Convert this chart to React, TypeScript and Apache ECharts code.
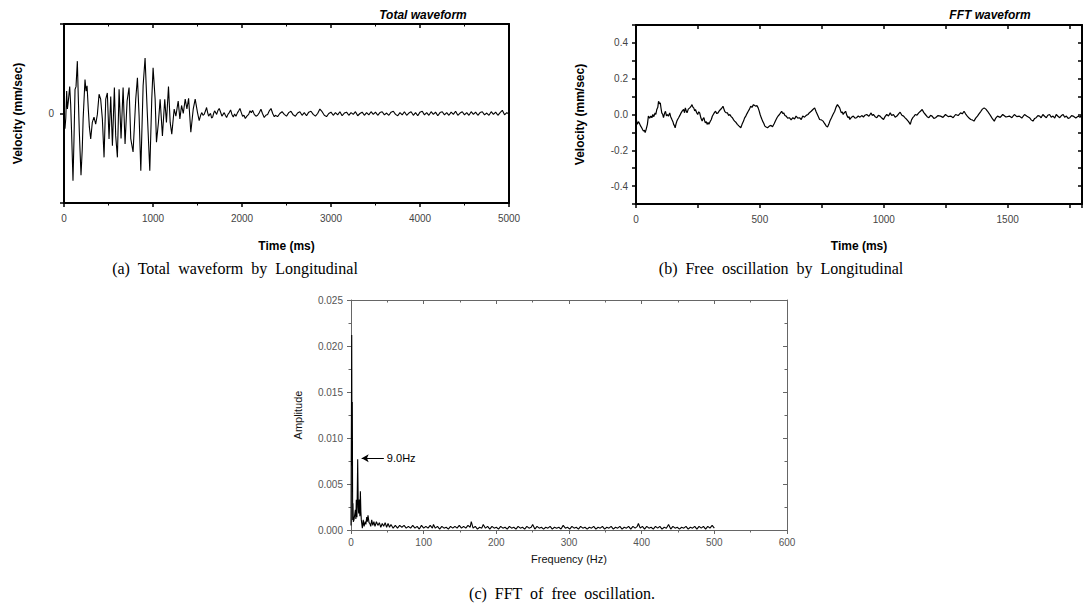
import React, { useEffect, useRef } from "react";
import * as echarts from "echarts";

// (a) Total waveform: [time ms, velocity (relative)]
const totalWave: number[][] = [
  [0, 0], [11, -0.17], [20, -0.05], [30, 0.25], [38, 0.05], [47, 0.12], [64, 0.3], [75, 0.1], [85, -0.2], [101, -0.75],
  [112, -0.3], [124, 0.27], [135, 0.3], [150, 0.585], [160, 0.2], [172, -0.2], [191, -0.69], [205, -0.4], [215, -0.06],
  [236, 0.38], [248, 0.25], [259, 0.31], [273, 0.05], [285, -0.15], [300, -0.285], [318, -0.1], [337, -0.04], [356, -0.12],
  [375, -0.01], [394, 0.215], [412, 0.16], [431, -0.06], [450, -0.49], [469, 0.16], [487, 0.23], [506, -0.285], [525, 0.19],
  [544, -0.36], [566, 0.29], [581, -0.25], [600, -0.49], [619, 0.27], [641, -0.28], [664, 0.29], [686, -0.34], [709, 0.14],
  [731, 0.29], [750, -0.28], [776, -0.43], [806, 0.16], [825, 0.4], [844, -0.03], [863, -0.64], [889, 0.31], [911, 0.62],
  [934, 0.05], [964, -0.64], [986, 0.16], [1001, 0.51], [1024, 0.16], [1039, -0.32], [1061, -0.1], [1080, 0.16],
  [1106, -0.25], [1132, 0.16], [1151, -0.1], [1174, 0.3], [1193, -0.1], [1211, -0.23], [1238, 0.05], [1257, -0.03],
  [1283, 0.14], [1302, -0.06], [1321, 0.09], [1340, 0.0], [1362, 0.16], [1381, 0.05], [1400, 0.17], [1425, -0.21],
  [1452, 0.05], [1474, 0.16], [1500, 0.01], [1519, -0.08], [1535, -0.02], [1549, 0.01], [1562, -0.02], [1575, -0.01],
  [1590, 0.03], [1602, 0.067], [1614, 0.01], [1625, -0.03], [1636, -0.01], [1647, 0.0], [1658, -0.05], [1670, -0.04],
  [1681, 0.0], [1692, 0.03], [1704, 0.01], [1715, -0.01], [1728, 0.03], [1744, 0.056], [1758, 0.02], [1774, -0.03],
  [1787, -0.01], [1800, 0.01], [1813, -0.02], [1827, -0.045], [1842, -0.01], [1857, 0.01], [1872, 0.04], [1887, -0.01],
  [1902, -0.04], [1917, -0.005], [1932, -0.03], [1950, 0.01], [1963, 0.03], [1977, 0.056], [1992, 0.01], [2007, -0.03],
  [2022, -0.02], [2037, -0.056], [2055, -0.03], [2075, -0.01], [2090, 0.03], [2105, 0.01], [2120, 0.035], [2138, -0.01],
  [2157, -0.03], [2175, -0.02], [2195, 0.01], [2213, 0.048], [2230, 0.0], [2250, -0.045], [2268, -0.02], [2288, -0.01],
  [2307, 0.03], [2326, 0.056], [2345, 0.0], [2363, -0.035], [2375, -0.02], [2400, -0.035], [2425, 0.0], [2450, 0.02],
  [2475, -0.01], [2500, -0.03], [2525, 0.01], [2550, 0.025], [2575, -0.015], [2600, -0.03], [2625, 0.005], [2650, 0.02],
  [2675, -0.02], [2700, 0.01], [2725, -0.025], [2750, 0.015], [2775, 0.025], [2800, -0.01], [2825, -0.03], [2850, 0.0],
  [2875, 0.05], [2900, 0.02], [2925, -0.02], [2950, -0.035], [2975, 0.0], [3000, 0.015], [3025, -0.02], [3050, 0.01],
  [3075, -0.015], [3100, 0.02], [3125, -0.025], [3150, 0.005], [3175, 0.015], [3200, -0.02], [3225, 0.01], [3250, -0.01],
  [3275, 0.02], [3300, -0.025], [3325, 0.0], [3350, 0.015], [3375, -0.02], [3400, 0.01], [3425, -0.015], [3450, 0.02],
  [3475, -0.01], [3500, 0.015], [3525, -0.02], [3550, 0.01], [3575, 0.02], [3600, -0.015], [3625, 0.005], [3650, -0.02],
  [3675, 0.015], [3700, 0.025], [3725, -0.01], [3750, -0.025], [3775, 0.01], [3800, -0.015], [3825, 0.02], [3850, -0.02],
  [3875, 0.005], [3900, 0.02], [3925, -0.02], [3950, 0.01], [3975, -0.025], [4000, 0.015], [4025, 0.025], [4050, -0.015],
  [4075, 0.01], [4100, -0.02], [4125, 0.02], [4150, -0.01], [4175, 0.015], [4200, -0.025], [4225, 0.01], [4250, 0.02],
  [4275, -0.015], [4300, 0.01], [4325, -0.02], [4350, 0.015], [4375, -0.01], [4400, 0.025], [4425, -0.02], [4450, 0.005],
  [4475, 0.02], [4500, -0.015], [4525, 0.01], [4550, -0.02], [4575, 0.02], [4600, -0.01], [4625, 0.015], [4650, -0.02],
  [4675, 0.01], [4700, 0.02], [4725, -0.015], [4750, 0.005], [4775, -0.02], [4800, 0.02], [4825, -0.01], [4850, 0.015],
  [4875, -0.02], [4900, 0.01], [4925, 0.035], [4950, -0.015], [4975, 0.01], [5000, -0.005],
];

// (b) Free oscillation: [time ms, velocity mm/sec]
const freeWave: number[][] = [
  [0, -0.018], [5, -0.055], [10, -0.04], [14, -0.05], [19, -0.065], [23, -0.074], [27, -0.085], [30, -0.092], [34, -0.088],
  [37, -0.101], [41, -0.083], [46, -0.055], [50, -0.009], [55, -0.02], [60, -0.009], [64, -0.018], [68, 0], [72, -0.012],
  [77, 0.009], [80, 0.0], [84, 0.028], [88, 0.04], [91, 0.074], [95, 0.06], [98, 0.065], [101, 0.035], [104, 0.009],
  [108, 0.0], [111, -0.018], [115, 0.005], [119, 0.018], [123, -0.008], [127, 0], [131, -0.01], [136, 0.009], [140, -0.012],
  [145, -0.028], [149, -0.04], [152, -0.055], [155, -0.062], [158, -0.074], [162, -0.05], [165, -0.037], [168, -0.028],
  [172, -0.018], [177, -0.005], [182, 0.009], [187, 0.02], [192, 0.028], [196, 0.01], [199, 0.037], [203, 0.02],
  [206, 0.009], [211, 0.03], [217, 0.037], [222, 0.045], [226, 0.055], [230, 0.04], [233, 0.037], [237, 0.02], [240, 0.028],
  [245, 0.01], [249, 0], [253, 0.015], [257, 0.009], [262, -0.02], [267, -0.037], [270, -0.025], [274, -0.018],
  [277, -0.035], [280, -0.046], [284, -0.04], [287, -0.055], [291, -0.045], [294, -0.055], [299, -0.04], [304, -0.028],
  [308, -0.01], [312, 0], [317, 0.012], [321, 0.018], [326, 0.005], [331, 0.009], [336, 0.02], [341, 0.028], [346, 0.035],
  [351, 0.046], [355, 0.03], [358, 0.018], [363, 0.01], [369, 0.009], [374, -0.005], [379, 0], [384, -0.012], [389, -0.018],
  [394, -0.03], [398, -0.037], [404, -0.045], [409, -0.055], [416, -0.065], [423, -0.074], [428, -0.055], [434, -0.037],
  [438, -0.02], [443, -0.009], [448, 0.005], [453, 0.018], [458, 0.03], [463, 0.046], [468, 0.04], [474, 0.055], [479, 0.05],
  [484, 0.046], [488, 0.05], [493, 0.037], [497, 0.02], [501, 0], [506, -0.02], [511, -0.037], [516, -0.05], [520, -0.065],
  [525, -0.07], [531, -0.074], [538, -0.065], [545, -0.061], [551, -0.068], [558, -0.05], [563, -0.035], [569, -0.018],
  [574, -0.008], [579, 0], [584, 0.01], [588, 0.018], [592, 0.005], [596, 0.009], [601, -0.005], [606, -0.009], [612, -0.02],
  [619, -0.018], [626, -0.03], [633, -0.018], [640, -0.025], [646, -0.009], [653, -0.02], [660, -0.018], [667, -0.028],
  [673, -0.009], [680, -0.015], [687, -0.005], [694, 0], [700, 0.01], [707, 0.018], [714, 0.028], [721, 0.037], [727, 0.015],
  [732, 0], [737, -0.015], [741, -0.028], [748, -0.03], [755, -0.037], [761, -0.05], [768, -0.065], [773, -0.07],
  [778, -0.055], [783, -0.035], [789, -0.018], [795, 0.0], [802, 0.018], [807, 0.04], [813, 0.055], [818, 0.045],
  [822, 0.037], [826, 0.02], [829, 0.009], [833, 0.015], [836, 0], [841, 0.01], [846, 0.018], [851, -0.005], [856, -0.018],
  [860, -0.012], [863, -0.028], [870, -0.015], [877, -0.009], [884, -0.02], [890, -0.018], [897, -0.008], [904, -0.015],
  [911, -0.006], [918, -0.014], [924, -0.004], [931, 0], [940, -0.01], [949, 0.009], [953, -0.005], [958, 0], [965, -0.012],
  [972, -0.018], [978, -0.005], [985, -0.009], [992, -0.02], [999, -0.028], [1005, -0.012], [1012, 0], [1019, -0.008],
  [1026, 0.009], [1032, -0.006], [1039, 0], [1046, -0.015], [1053, -0.009], [1060, 0.004], [1066, 0.013], [1073, -0.004],
  [1080, -0.009], [1087, -0.02], [1093, -0.028], [1100, -0.04], [1107, -0.055], [1112, -0.03], [1117, -0.018], [1122, -0.01],
  [1127, 0], [1134, -0.004], [1141, 0.009], [1148, 0.018], [1155, 0.028], [1161, 0.012], [1168, 0], [1175, -0.012],
  [1182, -0.018], [1189, -0.005], [1195, -0.009], [1202, -0.022], [1209, -0.018], [1219, -0.006], [1229, -0.009],
  [1239, -0.016], [1249, 0], [1260, -0.012], [1270, -0.009], [1280, -0.018], [1290, 0], [1300, -0.006], [1310, 0.009],
  [1317, 0.004], [1324, 0.018], [1330, 0.004], [1337, -0.009], [1344, -0.02], [1351, -0.028], [1357, -0.03], [1364, -0.037],
  [1371, -0.02], [1378, -0.009], [1385, 0.005], [1392, 0.018], [1398, 0.03], [1405, 0.037], [1412, 0.03], [1419, 0.018],
  [1426, 0.004], [1432, -0.009], [1439, -0.025], [1446, -0.037], [1452, -0.02], [1459, -0.009], [1470, -0.016], [1480, 0],
  [1493, -0.014], [1507, -0.009], [1517, -0.018], [1527, 0], [1537, -0.012], [1547, -0.009], [1557, -0.02], [1568, 0],
  [1578, -0.01], [1588, -0.018], [1595, -0.03], [1602, -0.037], [1609, -0.022], [1615, -0.018], [1622, -0.006],
  [1629, -0.009], [1635, -0.018], [1642, 0], [1649, -0.01], [1656, -0.018], [1662, -0.004], [1669, 0], [1676, -0.015],
  [1683, -0.009], [1690, -0.02], [1696, 0], [1703, -0.01], [1710, -0.018], [1717, -0.006], [1724, 0], [1730, -0.015],
  [1737, -0.009], [1744, -0.022], [1751, -0.018], [1758, -0.006], [1764, -0.009], [1775, -0.02], [1785, -0.009],
  [1792, -0.016], [1800, 0],
];

// (c) FFT of free oscillation: [frequency Hz, amplitude]
const fftAmp: number[][] = [
  [0, 0.0005], [1, 0.0212], [1.4, 0.007], [1.8, 0.0139], [2.3, 0.0011], [2.7, 0.0029], [3.2, 0.0009], [4.1, 0.0011],
  [5, 0.0016], [6, 0.0022], [6.7, 0.0012], [7.3, 0.0033], [8.2, 0.0014], [9.2, 0.0077], [10, 0.0025], [10.6, 0.0018],
  [11.5, 0.0033], [12.2, 0.0015], [12.9, 0.0042], [13.6, 0.002], [14.2, 0.0011], [15.6, 0.0002], [16.8, 0.0011],
  [18, 0.0004], [19.5, 0.0009], [20.5, 0.0006], [21.6, 0.0014], [22.5, 0.0009], [23.4, 0.0016], [24.8, 0.0008],
  [26, 0.0007], [27.2, 0.0004], [28.5, 0.0011], [30, 0.0005], [31.5, 0.0009], [33, 0.0004], [35, 0.0009], [37, 0.0005],
  [39, 0.0008], [41, 0.0003], [43, 0.0007], [45, 0.0004], [47, 0.0008], [49, 0.0003], [51, 0.0007], [53, 0.0003],
  [55, 0.0006], [58, 0.0002], [61, 0.0005], [64, 0.0002], [67, 0.0005], [70, 0.0003], [73, 0.0005], [76, 0.0002],
  [79, 0.0004], [82, 0.0002], [85, 0.0005], [88, 0.0002], [91, 0.0004], [94, 0.0001], [97, 0.0005], [100, 0.0002],
  [103, 0.0004], [106, 0.0002], [109, 0.0005], [112, 0.0002], [113.5, 0.0006], [116, 0.0002], [119, 0.0004], [122, 0.0001],
  [125, 0.0004], [128, 0.0002], [131, 0.0003], [134, 0.0001], [137, 0.0004], [140, 0.0002], [143, 0.0004], [146, 0.0002],
  [149, 0.0005], [152, 0.0002], [155, 0.0004], [158, 0.0002], [161, 0.0005], [164, 0.0003], [165.5, 0.0009], [168, 0.0002],
  [171, 0.0004], [174, 0.0001], [177, 0.0003], [180, 0.0002], [182, 0.0006], [185, 0.0002], [188, 0.0004], [191, 0.0001],
  [194, 0.0004], [197, 0.0002], [200, 0.0003], [203, 0.0001], [206, 0.0004], [209, 0.0002], [212, 0.0003], [215, 0.0001],
  [218, 0.0004], [221, 0.0002], [224, 0.0003], [227, 0.0001], [230, 0.0004], [233, 0.0002], [236, 0.0003], [239, 0.0001],
  [242, 0.0004], [245, 0.0002], [248, 0.0003], [250, 0.0006], [253, 0.0001], [256, 0.0004], [259, 0.0002], [262, 0.0003],
  [265, 0.0001], [268, 0.0003], [271, 0.0002], [274, 0.0004], [277, 0.0001], [280, 0.0003], [283, 0.0002], [286, 0.0003],
  [289, 0.0001], [292, 0.0005], [295, 0.0002], [298, 0.0003], [301, 0.0001], [304, 0.0004], [307, 0.0002], [310, 0.0003],
  [313, 0.0001], [316, 0.0004], [319, 0.0002], [322, 0.0003], [325, 0.0001], [328, 0.0003], [331, 0.0002], [334, 0.0004],
  [337, 0.0001], [340, 0.0003], [343, 0.0002], [346, 0.0004], [349, 0.0001], [352, 0.0003], [355, 0.0002], [358, 0.0004],
  [361, 0.0001], [364, 0.0003], [367, 0.0002], [370, 0.0004], [373, 0.0001], [376, 0.0003], [379, 0.0002], [382, 0.0004],
  [385, 0.0001], [388, 0.0004], [391, 0.0002], [394, 0.0004], [395.5, 0.0007], [398, 0.0002], [401, 0.0004], [404, 0.0001],
  [407, 0.0004], [410, 0.0002], [413, 0.0003], [416, 0.0001], [419, 0.0004], [422, 0.0002], [425, 0.0004], [428, 0.0001],
  [431, 0.0003], [434, 0.0002], [437, 0.0006], [440, 0.0001], [443, 0.0004], [446, 0.0002], [449, 0.0003], [452, 0.0001],
  [455, 0.0003], [458, 0.0002], [461, 0.0004], [464, 0.0001], [467, 0.0003], [470, 0.0002], [473, 0.0004], [476, 0.0001],
  [479, 0.0004], [482, 0.0002], [485, 0.0004], [488, 0.0001], [491, 0.0004], [494, 0.0002], [497, 0.0005], [500, 0.0002],
];

const freeYLabels = [-0.4, -0.2, 0, 0.2, 0.4];
const freeXLabels = [0, 500, 1000, 1500];
const peakLabel = "9.0Hz";
const peakFreq = 9.2;
const peakAmp = 0.0078;

const SANS = "'Liberation Sans', Arial, sans-serif";
const SERIF = "'Liberation Serif', 'Times New Roman', serif";

function boxAxes(grid: number, pos: string, o: any, color: string, lw: number) {
  const mirror = pos === "top" || pos === "right";
  return {
    gridIndex: grid,
    type: "value",
    position: pos,
    min: o.min,
    max: o.max,
    interval: o.interval,
    axisLine: { show: true, onZero: false, lineStyle: { color, width: lw } },
    axisTick: { show: o.ticks !== false, inside: mirror, length: 4, lineStyle: { color, width: lw > 1 ? 1.5 : 1 } },
    minorTick: { show: !!o.minor, splitNumber: 2, length: 2.5, lineStyle: { color, width: 1 } },
    splitLine: { show: false },
    axisLabel: mirror
      ? { show: false }
      : {
          show: true,
          fontSize: 10,
          color: o.labelColor || "#444",
          fontFamily: SANS,
          margin: o.margin ?? 8,
          formatter: o.formatter,
        },
    name: mirror ? undefined : o.name,
    nameLocation: "middle",
    nameGap: o.nameGap,
    nameTextStyle: o.nameStyle,
    silent: true,
  };
}

export default function App() {
  const ref = useRef<HTMLDivElement>(null);
  useEffect(() => {
    document.body.style.margin = "0";
    const chart = echarts.init(ref.current!, undefined, { renderer: "svg" });
    const boldName = { fontSize: 12, fontWeight: "bold", color: "#000", fontFamily: SANS };
    const plain = (v: number) => String(Math.round(v));
    const aX = { min: 0, max: 5000, interval: 1000, minor: true, name: "Time (ms)", nameGap: 37, nameStyle: boldName, margin: 10, formatter: plain };
    const aY = {
      min: -1, max: 1, interval: 1, name: "Velocity (mm/sec)", nameGap: 40, nameStyle: boldName, margin: 10,
      formatter: (v: number) => (v === 0 ? "0" : ""),
    };
    const bX = {
      min: 0, max: 1800, interval: 250, name: "Time (ms)", nameGap: 36, nameStyle: boldName, margin: 10,
      formatter: (v: number) => (freeXLabels.includes(Math.round(v)) ? String(Math.round(v)) : ""),
    };
    const bY = {
      min: -0.5, max: 0.5, interval: 0.1, name: "Velocity (mm/sec)", nameGap: 50, nameStyle: boldName,
      formatter: (v: number) => {
        const r = Math.round(v * 10) / 10;
        return freeYLabels.some((l) => Math.abs(l - r) < 1e-6) ? r.toFixed(1) : "";
      },
    };
    const thinName = { fontSize: 11, color: "#111", fontFamily: SANS };
    const cX = { min: 0, max: 600, interval: 100, minor: true, name: "Frequency (Hz)", nameGap: 23, nameStyle: thinName, labelColor: "#555", margin: 7, formatter: plain };
    const cY = {
      min: 0, max: 0.025, interval: 0.005, minor: true, name: "Amplitude", nameGap: 48, nameStyle: thinName, labelColor: "#555",
      formatter: (v: number) => v.toFixed(3),
    };
    const G = "#666";
    chart.setOption({
      animation: false,
      grid: [
        { left: 64, top: 24, width: 445, height: 179 },
        { left: 636, top: 25, width: 446, height: 179 },
        { left: 351, top: 300, width: 436, height: 230 },
      ],
      xAxis: [
        boxAxes(0, "bottom", aX, "#000", 2),
        boxAxes(0, "top", aX, "#000", 2),
        boxAxes(1, "bottom", bX, "#000", 2),
        boxAxes(1, "top", bX, "#000", 2),
        boxAxes(2, "bottom", cX, G, 1),
        boxAxes(2, "top", cX, G, 1),
      ],
      yAxis: [
        boxAxes(0, "left", aY, "#000", 2),
        boxAxes(0, "right", { ...aY, ticks: false }, "#000", 2),
        boxAxes(1, "left", bY, "#000", 2),
        boxAxes(1, "right", bY, "#000", 2),
        boxAxes(2, "left", cY, G, 1),
        boxAxes(2, "right", cY, G, 1),
      ],
      series: [
        {
          type: "line", xAxisIndex: 0, yAxisIndex: 0, data: totalWave, showSymbol: false, silent: true, z: 5,
          lineStyle: { color: "#000", width: 1.1 },
        },
        {
          type: "line", xAxisIndex: 2, yAxisIndex: 2, data: freeWave, showSymbol: false, silent: true, z: 5,
          lineStyle: { color: "#000", width: 1.2 },
        },
        {
          type: "line", xAxisIndex: 4, yAxisIndex: 4, data: fftAmp, showSymbol: false, silent: true, z: 5,
          lineStyle: { color: "#000", width: 1.1 },
          markLine: {
            silent: true,
            symbol: ["arrow", "none"],
            symbolSize: [6, 7],
            lineStyle: { color: "#000", width: 1, type: "solid" },
            label: { show: true, position: "end", formatter: peakLabel, color: "#000", fontSize: 11, fontFamily: SANS, distance: 3 },
            data: [[{ coord: [peakFreq + 5.5, peakAmp] }, { coord: [peakFreq + 36, peakAmp] }]],
          },
        },
      ],
      graphic: [
        { type: "text", x: 423, y: 15, style: { text: "Total waveform", font: `italic bold 12px ${SANS}`, fill: "#000", textAlign: "center", textVerticalAlign: "middle", align: "center", verticalAlign: "middle" } },
        { type: "text", x: 990, y: 15, style: { text: "FFT waveform", font: `italic bold 12px ${SANS}`, fill: "#000", textAlign: "center", textVerticalAlign: "middle", align: "center", verticalAlign: "middle" } },
        { type: "text", x: 235, y: 268, style: { text: "(a)  Total  waveform  by  Longitudinal", font: `16px ${SERIF}`, fill: "#000", textAlign: "center", textVerticalAlign: "middle", align: "center", verticalAlign: "middle" } },
        { type: "text", x: 781, y: 268, style: { text: "(b)  Free  oscillation  by  Longitudinal", font: `16px ${SERIF}`, fill: "#000", textAlign: "center", textVerticalAlign: "middle", align: "center", verticalAlign: "middle" } },
        { type: "text", x: 562, y: 593, style: { text: "(c)  FFT  of  free  oscillation.", font: `16px ${SERIF}`, fill: "#000", textAlign: "center", textVerticalAlign: "middle", align: "center", verticalAlign: "middle" } },
      ],
    });
    return () => chart.dispose();
  }, []);
  return <div ref={ref} style={{ width: 1085, height: 608 }} />;
}
